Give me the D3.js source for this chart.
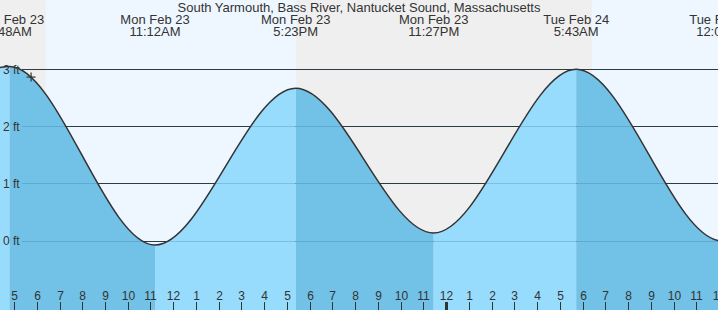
<!DOCTYPE html>
<html>
<head>
<meta charset="utf-8">
<script src="https://cdn.jsdelivr.net/npm/d3@7"></script>
<style>
html,body{margin:0;padding:0;background:#fff;}
svg{display:block;}
text{font-family:"Liberation Sans",Arial,sans-serif;fill:#333;}
</style>
</head>
<body>
<svg id="chart" width="718" height="310"></svg>
<script>
// ---- data ----
const title = "South Yarmouth, Bass River, Nantucket Sound, Massachusetts";
const tideTimes = ["2026-02-22T22:35","2026-02-23T04:48","2026-02-23T11:12","2026-02-23T17:23","2026-02-23T23:27","2026-02-24T05:43","2026-02-24T12:08","2026-02-24T18:20"];
const tideHeights = [0.12, 3.05, -0.07, 2.67, 0.14, 3.0, 0.0, 2.7];
const tideDayLabels = ["Sun Feb 22","Mon Feb 23","Mon Feb 23","Mon Feb 23","Mon Feb 23","Tue Feb 24","Tue Feb 24","Tue Feb 24"];
const tideTimeLabels = ["10:35PM","4:48AM","11:12AM","5:23PM","11:27PM","5:43AM","12:08PM","6:20PM"];
const sunEvents = ["2026-02-23T06:24","2026-02-23T17:24","2026-02-24T06:25"];
const yTicks = [0,1,2,3];
const viewStart = "2026-02-23T04:23";
const viewEnd = "2026-02-24T11:57";
const nowTime = "2026-02-23T05:45";

const W = 718, H = 310;
const svg = d3.select("#chart");
const parse = d3.timeParse("%Y-%m-%dT%H:%M");
const tides = tideTimes.map((t,i)=>({t:parse(t), h:tideHeights[i], day:tideDayLabels[i], time:tideTimeLabels[i]}));
const t0 = parse(viewStart), t1 = parse(viewEnd);

const x = d3.scaleTime().domain([t0,t1]).range([0,W]);
const y = d3.scaleLinear().domain([0,3]).range([241,69.3]);

// background day/night bands
const edges = [t0, ...sunEvents.map(parse), t1];
const bands = [];
for (let i=0;i<edges.length-1;i++) bands.push({a:edges[i], b:edges[i+1], night: i%2===0});
svg.append("g").selectAll("rect").data(bands).join("rect")
  .attr("x", d=>x(d.a)).attr("y",0)
  .attr("width", d=>x(d.b)-x(d.a)).attr("height",H)
  .attr("fill", d=>d.night ? "#efefef" : "#eef7ff");

// grid lines (behind fill)
svg.append("g").selectAll("line").data(yTicks).join("line")
  .attr("x1",22).attr("x2",W)
  .attr("y1",d=>y(d)).attr("y2",d=>y(d))
  .attr("stroke","#333").attr("stroke-width",1).attr("shape-rendering","crispEdges");

// area, split into rising / falling segments
const area = d3.area().x(d=>x(d.t)).y0(H).y1(d=>y(d.h)).curve(d3.curveMonotoneX);
const line = d3.line().x(d=>x(d.t)).y(d=>y(d.h)).curve(d3.curveMonotoneX);
const defs = svg.append("defs");
const segs = [];
for (let i=0;i<tides.length-1;i++) segs.push({a:tides[i], b:tides[i+1], rising: tides[i+1].h > tides[i].h, i});
segs.forEach(s=>{
  defs.append("clipPath").attr("id","seg"+s.i).append("rect")
    .attr("x", x(s.a.t)).attr("y",0).attr("width", x(s.b.t)-x(s.a.t)).attr("height",H);
});
const fillG = svg.append("g");
segs.forEach(s=>{
  fillG.append("path").datum(tides).attr("d",area)
    .attr("clip-path","url(#seg"+s.i+")")
    .attr("fill", s.rising ? "#97dbfd" : "#72c1e6");
});

// faint grid lines over fill
svg.append("g").selectAll("line").data(yTicks).join("line")
  .attr("x1",22).attr("x2",W)
  .attr("y1",d=>y(d)).attr("y2",d=>y(d))
  .attr("stroke","#1a5a8a").attr("stroke-opacity",0.22).attr("stroke-width",1).attr("shape-rendering","crispEdges");

// curve
svg.append("path").datum(tides).attr("d",line)
  .attr("fill","none").attr("stroke","#333").attr("stroke-width",1.5);

// y labels
svg.append("g").selectAll("text").data(yTicks).join("text")
  .attr("x",3).attr("y",d=>y(d)).attr("dy","0.35em")
  .style("font-size","12px").text(d=>d+" ft");

// now marker, placed on the drawn curve
const nt = parse(nowTime);
const pathNode = svg.append("path").datum(tides).attr("d",line).attr("fill","none").attr("stroke","none").node();
function curveYAt(px){
  let lo=0, hi=pathNode.getTotalLength();
  for(let k=0;k<40;k++){const m=(lo+hi)/2; if(pathNode.getPointAtLength(m).x<px) lo=m; else hi=m;}
  return pathNode.getPointAtLength(lo).y;
}
const nx = x(nt), ny = curveYAt(nx);
const mk = svg.append("g").attr("stroke","#333").attr("stroke-width",1.2);
mk.append("line").attr("x1",nx-4.5).attr("x2",nx+4.5).attr("y1",ny).attr("y2",ny);
mk.append("line").attr("x1",nx).attr("x2",nx).attr("y1",ny-4.5).attr("y2",ny+4.5);

// title
svg.append("text").attr("x",W/2).attr("y",12).attr("text-anchor","middle")
  .style("font-size","13px").text(title);

// tide labels
const lab = svg.append("g").selectAll("g").data(tides).join("g")
  .attr("transform",d=>`translate(${x(d.t)},0)`);
lab.append("text").attr("y",24).attr("text-anchor","middle").style("font-size","13px").text(d=>d.day);
lab.append("text").attr("y",36).attr("text-anchor","middle").style("font-size","13px").text(d=>d.time);

// hour axis
const hours = d3.timeHour.every(1).range(t0, d3.timeHour.offset(t1, 1));
const hg = svg.append("g").selectAll("g").data(hours).join("g")
  .attr("transform",d=>`translate(${Math.round(x(d))+0.5},0)`);
hg.append("line").attr("y1",302).attr("y2",H)
  .attr("stroke","#333").attr("stroke-width",d=>d.getHours()===0?3:1);
hg.append("text").attr("y",300).attr("text-anchor","middle").style("font-size","12px")
  .text(d=>{const h=d.getHours()%12; return h===0?12:h;});
</script>
</body>
</html>
